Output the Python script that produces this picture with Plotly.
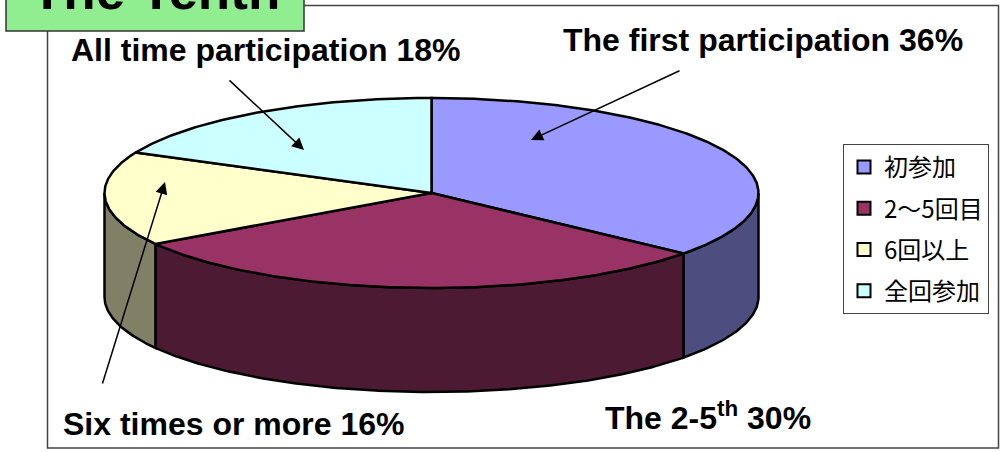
"""The Tenth: participation share as a tilted 3D-look pie, drawn on pixel-scaled axes."""

import numpy as np
import plotly.graph_objects as go

categories = ["初参加", "2～5回目", "6回以上", "全回参加"]
shares = [36, 30, 16, 18]
top_colors = ["#9999FF", "#993366", "#FFFFCC", "#CCFFFF"]
side_colors = ["#4D4D80", "#4D1A33", "#808066", "#668080"]

title_text = "The Tenth"
callouts = [
    ("The first participation 36%", 763, 40),
    ("The 2-5<sup>th</sup> 30%", 708, 416),
    ("Six times or more 16%", 233, 424),
    ("All time participation 18%", 265, 50),
]
arrows = [
    (681, 70, 531, 140),
    (102, 385, 165, 182),
    (228, 79, 304, 150),
]

CX, CY = 431.5, 193
RX, RY = 327, 95
DEPTH = 104
EDGE = "#000000"
LABEL_FONT = "Liberation Sans"


def ellipse(start_deg, end_deg, drop=0):
    # angles run clockwise from 12 o'clock, like the source pie
    t = np.radians(np.linspace(start_deg, end_deg, max(int(abs(end_deg - start_deg)) * 2, 2)))
    return CX + RX * np.sin(t), CY - RY * np.cos(t) + drop


fig = go.Figure()

edges = np.cumsum([0] + shares) / sum(shares) * 360

# side walls, only the front half of the rim (90-270 deg) shows
for start, end, color in zip(edges[:-1], edges[1:], side_colors):
    lo, hi = max(start, 90), min(end, 270)
    if lo >= hi:
        continue
    x_top, y_top = ellipse(lo, hi)
    x_low, y_low = ellipse(hi, lo, DEPTH)
    fig.add_trace(
        go.Scatter(
            x=np.r_[x_top, x_low, x_top[0]],
            y=np.r_[y_top, y_low, y_top[0]],
            mode="lines",
            fill="toself",
            fillcolor=color,
            line=dict(color=EDGE, width=2.5),
            showlegend=False,
            hoverinfo="skip",
        )
    )

# top faces
for start, end, color, name in zip(edges[:-1], edges[1:], top_colors, categories):
    x_arc, y_arc = ellipse(start, end)
    fig.add_trace(
        go.Scatter(
            x=np.r_[CX, x_arc, CX],
            y=np.r_[CY, y_arc, CY],
            mode="lines",
            fill="toself",
            fillcolor=color,
            line=dict(color=EDGE, width=2.5),
            name=name,
            showlegend=False,
        )
    )

# legend swatches
for color, name in zip(top_colors, categories):
    fig.add_trace(
        go.Scatter(
            x=[None],
            y=[None],
            mode="markers",
            marker=dict(symbol="square", size=13, color=color, line=dict(color=EDGE, width=2)),
            name=name,
            legendgroup=name,
        )
    )

fig.add_shape(type="rect", x0=47.5, y0=5.5, x1=998.5, y1=448, layer="below",
              fillcolor="white", line=dict(color="#444444", width=1.5))
fig.add_shape(type="rect", x0=6, y0=-10, x1=304, y1=31,
              fillcolor="#90EE90", line=dict(color="#333333", width=1.5))

# yref paper because an axis-referenced annotation past the range gets dropped
fig.add_annotation(x=155, xref="x", y=1 - 22 / 452, yref="paper", yanchor="bottom",
                   text=f"<b>{title_text}</b>", showarrow=False,
                   font=dict(family=LABEL_FONT, size=53, color="black"))

for text, x, y in callouts:
    fig.add_annotation(x=x, y=y, text=f"<b>{text}</b>", showarrow=False,
                       font=dict(family=LABEL_FONT, size=32, color="black"))

for x_tail, y_tail, x_tip, y_tip in arrows:
    fig.add_annotation(x=x_tip, y=y_tip, ax=x_tail, ay=y_tail, xref="x", yref="y",
                       axref="x", ayref="y", text="", showarrow=True, arrowhead=2,
                       arrowsize=1.6, arrowwidth=1.5, arrowcolor="black")

fig.update_xaxes(range=[0, 1000], visible=False, fixedrange=True)
fig.update_yaxes(range=[452, 0], visible=False, fixedrange=True)
fig.update_layout(
    width=1000,
    height=452,
    margin=dict(l=0, r=0, t=0, b=0),
    paper_bgcolor="white",
    plot_bgcolor="white",
    legend=dict(
        x=0.843,
        y=1 - 144 / 452,
        xanchor="left",
        yanchor="top",
        bgcolor="white",
        bordercolor="#444444",
        borderwidth=1,
        tracegroupgap=7,
        font=dict(family="Noto Sans CJK JP", size=24, color="black"),
    ),
)

fig.write_html("out.html", config={"displayModeBar": False},
               post_script="document.body.style.margin='0';")
